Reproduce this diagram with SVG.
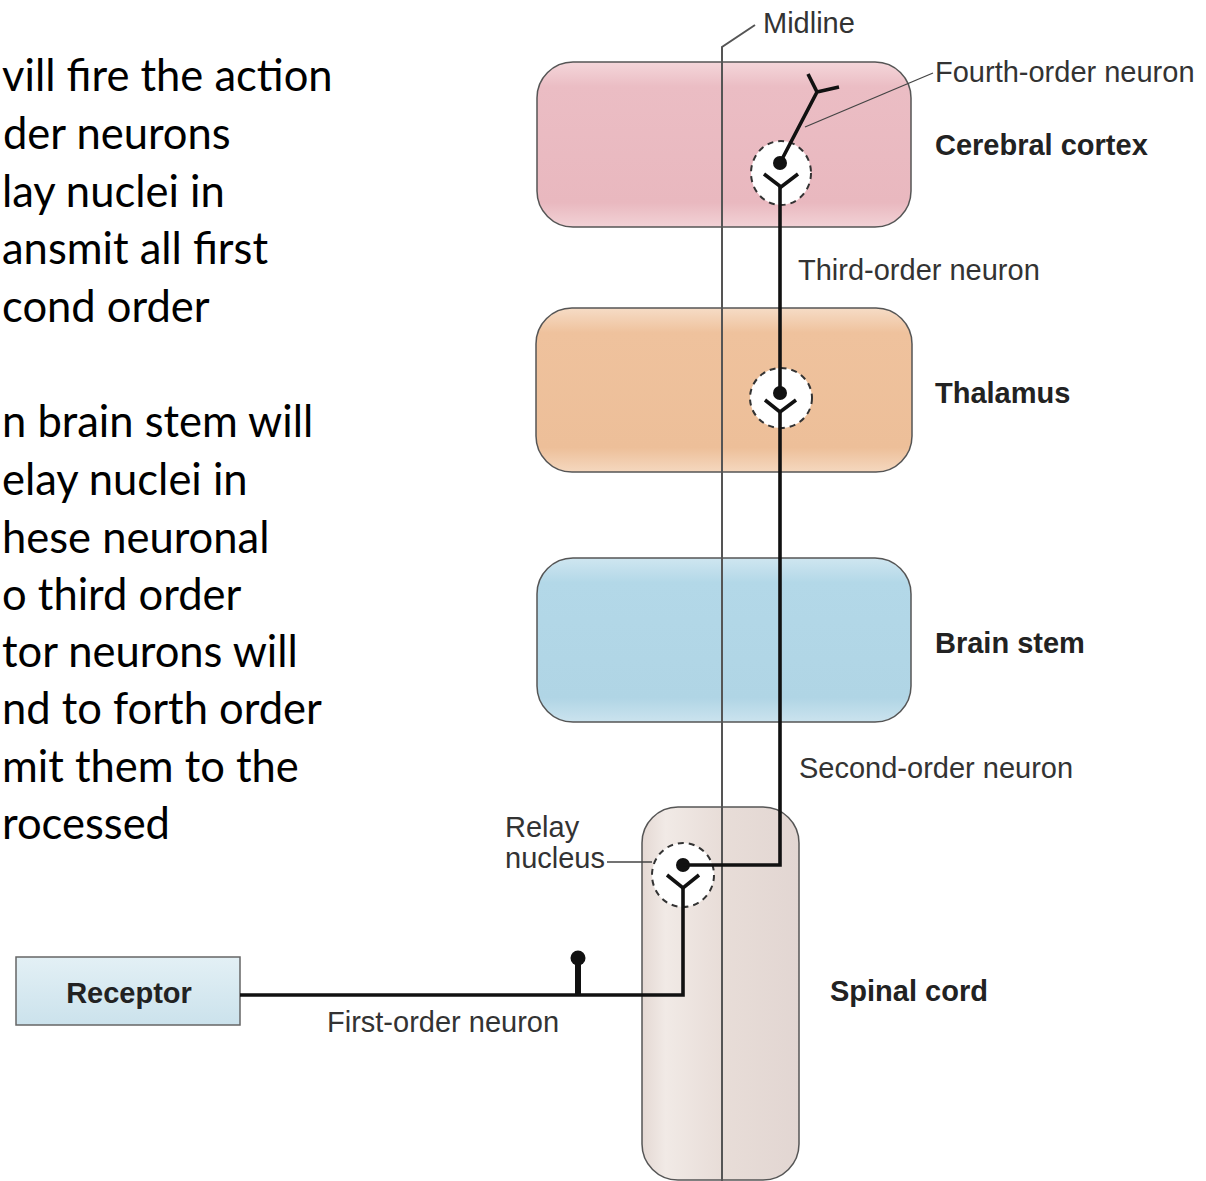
<svg xmlns="http://www.w3.org/2000/svg" width="1206" height="1181" viewBox="0 0 1206 1181">
<defs>
<linearGradient id="gPink" x1="0" y1="0" x2="0" y2="1">
<stop offset="0" stop-color="#f4d6da"/><stop offset="0.15" stop-color="#ebbdc4"/><stop offset="0.85" stop-color="#e9b8bf"/><stop offset="1" stop-color="#f2d2d6"/>
</linearGradient>
<linearGradient id="gOrange" x1="0" y1="0" x2="0" y2="1">
<stop offset="0" stop-color="#f6dcc6"/><stop offset="0.15" stop-color="#efc29d"/><stop offset="0.85" stop-color="#edbf99"/><stop offset="1" stop-color="#f5d8bf"/>
</linearGradient>
<linearGradient id="gBlue" x1="0" y1="0" x2="0" y2="1">
<stop offset="0" stop-color="#cfe6f0"/><stop offset="0.15" stop-color="#b3d8e8"/><stop offset="0.85" stop-color="#b0d5e5"/><stop offset="1" stop-color="#cbe3ee"/>
</linearGradient>
<linearGradient id="gSpinal" x1="0" y1="0" x2="1" y2="0">
<stop offset="0" stop-color="#e4d8d3"/><stop offset="0.15" stop-color="#f1eae6"/><stop offset="0.5" stop-color="#e8ddd8"/><stop offset="1" stop-color="#e2d6d2"/>
</linearGradient>
<linearGradient id="gRecep" x1="0" y1="0" x2="0" y2="1">
<stop offset="0" stop-color="#e3f0f5"/><stop offset="1" stop-color="#cbe2ec"/>
</linearGradient>
<style>
.box{stroke:#555;stroke-width:1.5}
.lbl{font-family:"Liberation Sans",Arial,sans-serif;font-size:29px;fill:#333}
.bold{font-family:"Liberation Sans",Arial,sans-serif;font-size:29px;font-weight:bold;fill:#222}
.para{font-family:Lato,"Open Sans",sans-serif;font-size:43.5px;fill:#000}
.neu{stroke:#111;stroke-width:3.6;fill:none;stroke-linejoin:miter}
.dash{fill:#fff;stroke:#333;stroke-width:2;stroke-dasharray:6 5}
.lead{stroke:#444;stroke-width:1.3;fill:none}
.mid{stroke:#555;stroke-width:2;fill:none}
</style>
</defs>
<rect width="1206" height="1181" fill="#fff"/>

<g id="paragraph">
<text class="para" x="2" y="91">vill fire the action</text>
<text class="para" x="3" y="149">der neurons</text>
<text class="para" x="2" y="207">lay nuclei in</text>
<text class="para" x="2" y="264">ansmit all first</text>
<text class="para" x="2" y="322">cond order</text>
<text class="para" x="2" y="437">n brain stem will</text>
<text class="para" x="2" y="495">elay nuclei in</text>
<text class="para" x="2" y="553">hese neuronal</text>
<text class="para" x="2" y="610">o third order</text>
<text class="para" x="2" y="667">tor neurons will</text>
<text class="para" x="2" y="724">nd to forth order</text>
<text class="para" x="2" y="782">mit them to the</text>
<text class="para" x="2" y="839">rocessed</text>
</g>

<g id="cerebral-cortex">
<rect class="box" x="537" y="62" width="374" height="165" rx="36" fill="url(#gPink)"/>
<text class="bold" x="935" y="155">Cerebral cortex</text>
</g>
<g id="thalamus">
<rect class="box" x="536" y="308" width="376" height="164" rx="36" fill="url(#gOrange)"/>
<text class="bold" x="935" y="403">Thalamus</text>
</g>
<g id="brain-stem">
<rect class="box" x="537" y="558" width="374" height="164" rx="36" fill="url(#gBlue)"/>
<text class="bold" x="935" y="653">Brain stem</text>
</g>
<g id="spinal-cord">
<rect class="box" x="642" y="807" width="157" height="373" rx="36" fill="url(#gSpinal)"/>
<text class="bold" x="830" y="1001">Spinal cord</text>
</g>
<g id="receptor">
<rect x="16" y="957" width="224" height="68" fill="url(#gRecep)" stroke="#666" stroke-width="1.5"/>
<text class="bold" x="129" y="1003" text-anchor="middle">Receptor</text>
</g>

<g id="midline">
<path class="mid" d="M722 1181 V47 L755 25"/>
<text class="lbl" x="763" y="33">Midline</text>
</g>

<g id="relay-nucleus">
<ellipse class="dash" cx="683" cy="875" rx="31" ry="32"/>
<text class="lbl" x="505" y="837">Relay</text>
<text class="lbl" x="505" y="868">nucleus</text>
<path class="lead" d="M607 862 H652"/>
</g>
<g id="thalamic-synapse">
<ellipse class="dash" cx="781" cy="398" rx="31" ry="30"/>
</g>
<g id="cortical-synapse">
<ellipse class="dash" cx="781" cy="173" rx="30" ry="32"/>
</g>

<g id="connectors">
<path class="neu" d="M240 995 H683 V888"/>
<path class="neu" d="M667 875 L683 888 L699 875"/>
<path d="M578 995 V958" stroke="#111" stroke-width="6"/>
<circle cx="578" cy="958" r="7.5" fill="#111"/>
<circle cx="683" cy="865" r="7" fill="#111"/>
<path class="neu" d="M683 865 H780 V412"/>
<path class="neu" d="M765 400 L780 412 L796 400"/>
<circle cx="780" cy="393" r="7" fill="#111"/>
<path class="neu" d="M780 393 V187"/>
<path class="neu" d="M764 174 L781 187 L798 174"/>
<circle cx="780" cy="163" r="7" fill="#111"/>
<path class="neu" d="M780 163 L817 92 L808 74 M817 92 L839 87"/>
</g>

<g id="labels">
<text class="lbl" x="935" y="82">Fourth-order neuron</text>
<path class="lead" d="M933 73 L805 127"/>
<text class="lbl" x="798" y="280">Third-order neuron</text>
<text class="lbl" x="799" y="778">Second-order neuron</text>
<text class="lbl" x="327" y="1032">First-order neuron</text>
</g>
</svg>
